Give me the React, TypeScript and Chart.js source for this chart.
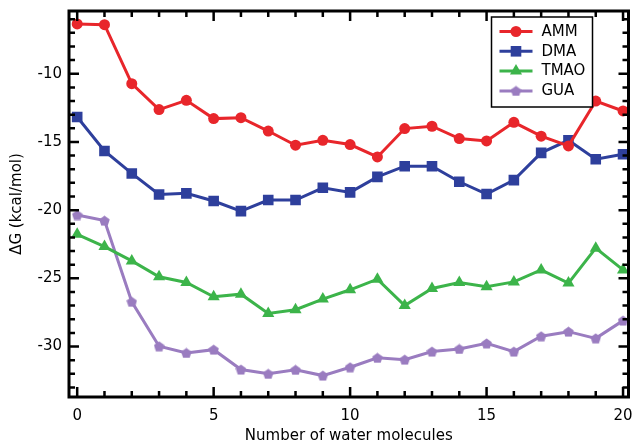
import React, { useEffect, useRef } from "react";
import { Chart, registerables } from "chart.js";
import { drawPoint } from "chart.js/helpers";

Chart.register(...registerables);

const WATERS = [0, 1, 2, 3, 4, 5, 6, 7, 8, 9, 10, 11, 12, 13, 14, 15, 16, 17, 18, 19, 20];
const AMM = [-6.35, -6.4, -10.73, -12.63, -11.95, -13.29, -13.22, -14.2, -15.24, -14.88, -15.19, -16.1, -14.02, -13.85, -14.75, -14.93, -13.56, -14.58, -15.29, -12.0, -12.73];
const DMA = [-13.17, -15.66, -17.31, -18.85, -18.77, -19.33, -20.07, -19.26, -19.26, -18.36, -18.7, -17.56, -16.78, -16.78, -17.92, -18.82, -17.8, -15.8, -14.88, -16.27, -15.9];
const TMAO = [-21.77, -22.67, -23.72, -24.89, -25.3, -26.35, -26.16, -27.57, -27.3, -26.52, -25.84, -25.06, -27.0, -25.74, -25.3, -25.62, -25.26, -24.38, -25.35, -22.79, -24.38];
const GUA = [-20.36, -20.77, -26.72, -29.98, -30.47, -30.23, -31.69, -32.0, -31.71, -32.13, -31.52, -30.83, -30.96, -30.37, -30.18, -29.77, -30.37, -29.25, -28.91, -29.4, -28.1];

const X_TICKS = [0, 5, 10, 15, 20];
const Y_TICKS = [-10, -15, -20, -25, -30];
const X_MINOR = [0, 1, 2, 3, 4, 5, 6, 7, 8, 9, 10, 11, 12, 13, 14, 15, 16, 17, 18, 19, 20];
const Y_MINOR = [-6, -7, -8, -9, -10, -11, -12, -13, -14, -15, -16, -17, -18, -19, -20, -21, -22, -23, -24, -25, -26, -27, -28, -29, -30, -31, -32, -33];

const FONT = "DejaVu Sans";

function pentagon(color: string, size: number): HTMLCanvasElement {
  const c = document.createElement("canvas");
  c.width = size;
  c.height = size;
  const g = c.getContext("2d")!;
  const r = size / 2;
  g.fillStyle = color;
  g.beginPath();
  for (let i = 0; i < 5; i++) {
    const a = -Math.PI / 2 + (i * 2 * Math.PI) / 5;
    const px = r + r * Math.cos(a);
    const py = r + 0.05 * size + r * Math.sin(a);
    if (i === 0) g.moveTo(px, py);
    else g.lineTo(px, py);
  }
  g.closePath();
  g.fill();
  return c;
}

const framePlugin = {
  id: "frame",
  afterDatasetsDraw(chart: any) {
    const { ctx, chartArea: a, scales } = chart;
    const xs = scales.x;
    const ys = scales.y;
    ctx.save();
    ctx.strokeStyle = "#000";
    ctx.lineWidth = 2.5;
    ctx.beginPath();
    X_MINOR.forEach((v) => {
      const px = xs.getPixelForValue(v);
      const len = X_TICKS.includes(v) ? 10 : 6;
      ctx.moveTo(px, a.bottom);
      ctx.lineTo(px, a.bottom - len);
      ctx.moveTo(px, a.top);
      ctx.lineTo(px, a.top + len);
    });
    Y_MINOR.forEach((v) => {
      const py = ys.getPixelForValue(v);
      const len = Y_TICKS.includes(v) ? 10 : 6;
      ctx.moveTo(a.left, py);
      ctx.lineTo(a.left + len, py);
      ctx.moveTo(a.right, py);
      ctx.lineTo(a.right - len, py);
    });
    ctx.stroke();
    ctx.lineWidth = 3;
    ctx.strokeRect(a.left, a.top, a.right - a.left, a.bottom - a.top);
    ctx.restore();
  },
};

const legendPlugin = {
  id: "boxLegend",
  afterDraw(chart: any) {
    const { ctx, chartArea: a } = chart;
    const bx = a.right - 137;
    const by = a.top + 6;
    const bw = 101;
    const bh = 90;
    ctx.save();
    ctx.fillStyle = "#fff";
    ctx.fillRect(bx, by, bw, bh);
    ctx.strokeStyle = "#000";
    ctx.lineWidth = 1.5;
    ctx.strokeRect(bx, by, bw, bh);
    chart.data.datasets.forEach((ds: any, i: number) => {
      const y = by + 14.5 + i * 19.8;
      ctx.strokeStyle = ds.borderColor;
      ctx.lineWidth = 3;
      ctx.beginPath();
      ctx.moveTo(bx + 8, y);
      ctx.lineTo(bx + 41, y);
      ctx.stroke();
      ctx.fillStyle = ds.backgroundColor;
      ctx.strokeStyle = ds.borderColor;
      drawPoint(ctx, { pointStyle: ds.pointStyle, radius: ds.pointRadius, borderWidth: 0, rotation: 0 }, bx + 24.5, y);
      ctx.fillStyle = "#000";
      ctx.font = `15px "${FONT}"`;
      ctx.textBaseline = "middle";
      ctx.textAlign = "left";
      ctx.fillText(ds.label, bx + 50, y + 0.5);
    });
    ctx.restore();
  },
};

const zeroPad = (s: any) => {
  s.paddingTop = 0;
  s.paddingBottom = 0;
  s.paddingLeft = 0;
  s.paddingRight = 0;
};

export default function App() {
  const ref = useRef<HTMLCanvasElement | null>(null);
  useEffect(() => {
    if (!ref.current) return;
    const mk = (label: string, vals: number[], color: string, style: any, radius: number) => ({
      label,
      data: WATERS.map((x, i) => ({ x, y: vals[i] })),
      borderColor: color,
      backgroundColor: color,
      borderWidth: 3,
      pointStyle: style,
      pointRadius: radius,
      pointBorderWidth: 0,
      pointBackgroundColor: color,
      tension: 0,
    });
    const chart = new Chart(ref.current, {
      type: "line",
      data: {
        datasets: [
          mk("AMM", AMM, "#e8262b", "circle", 5.5),
          mk("DMA", DMA, "#2e3f9c", "rect", 7.5),
          mk("TMAO", TMAO, "#3cb44a", "triangle", 7),
          mk("GUA", GUA, "#9a7cc0", pentagon("#9a7cc0", 11), 5),
        ],
      },
      options: {
        animation: false,
        responsive: false,
        layout: { padding: { top: 11, right: 4, left: 0, bottom: 0 } },
        plugins: { legend: { display: false }, tooltip: { enabled: false } },
        scales: {
          x: {
            type: "linear",
            min: -0.3,
            max: 20.2,
            grid: { display: false, drawTicks: false },
            border: { display: false },
            afterBuildTicks: (s: any) => {
              s.ticks = X_TICKS.map((v) => ({ value: v }));
            },
            afterFit: (s: any) => {
              s.height = 49;
              zeroPad(s);
            },
            ticks: {
              color: "#000",
              padding: 10,
              maxRotation: 0,
              autoSkip: false,
              font: { family: FONT, size: 15 },
            },
            title: {
              display: true,
              text: "Number of water molecules",
              color: "#000",
              font: { family: FONT, size: 15 },
              padding: { top: 0, bottom: 1 },
            },
          },
          y: {
            type: "linear",
            min: -33.7,
            max: -5.4,
            grid: { display: false, drawTicks: false },
            border: { display: false },
            afterBuildTicks: (s: any) => {
              s.ticks = Y_TICKS.map((v) => ({ value: v }));
            },
            afterFit: (s: any) => {
              s.width = 69;
              zeroPad(s);
            },
            ticks: {
              color: "#000",
              padding: 7,
              autoSkip: false,
              font: { family: FONT, size: 15 },
            },
            title: {
              display: true,
              text: "ΔG (kcal/mol)",
              color: "#000",
              font: { family: FONT, size: 15 },
              padding: { top: 8, bottom: 0 },
            },
          },
        },
      },
      plugins: [framePlugin, legendPlugin],
    });
    return () => chart.destroy();
  }, []);
  return (
    <div style={{ position: "fixed", left: 0, top: 0, width: 636, height: 446, background: "#fff" }}>
      <canvas ref={ref} width={636} height={446} style={{ display: "block" }} />
    </div>
  );
}
